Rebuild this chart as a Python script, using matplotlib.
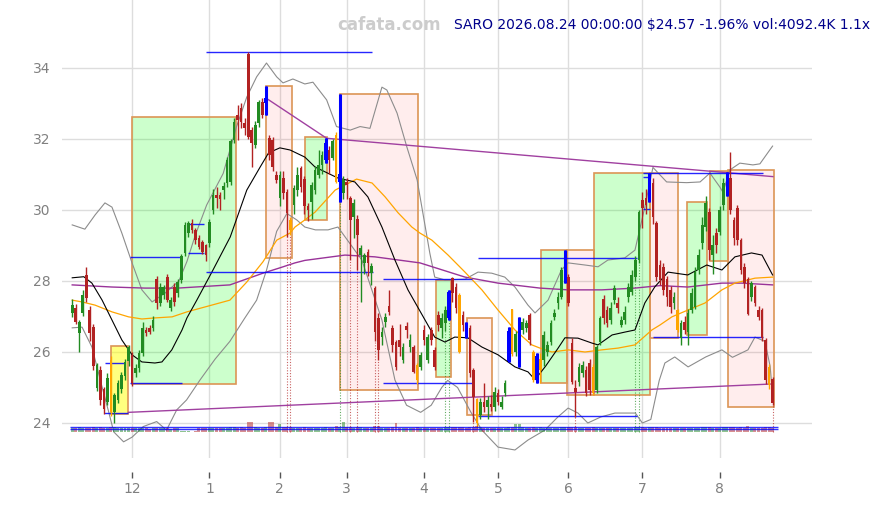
import matplotlib
matplotlib.use('Agg')
import matplotlib.pyplot as plt
from matplotlib.patches import Rectangle
import numpy as np
import pandas as pd

# trading calendar (bar index is the x axis)
holidays = ['2025-11-27', '2025-12-25', '2026-01-01', '2026-01-19', '2026-02-16',
            '2026-04-03', '2026-05-25', '2026-06-19', '2026-07-03']
dates = pd.bdate_range('2025-11-05', '2026-08-24', freq='C', holidays=holidays)
month_labels = ['12', '1', '2', '3', '4', '5', '6', '7', '8']

opens = [27.09, 27.23, 26.53, 27.09, 28.17, 27.18, 26.70, 24.98, 25.50, 24.95,
         24.60, 25.77, 24.32, 24.65, 24.95, 25.31, 25.75, 25.92, 25.40, 25.54,
         25.96, 26.62, 26.67, 26.67, 28.07, 27.37, 27.60, 28.12, 27.23, 27.84,
         27.65, 28.03, 28.78, 29.34, 29.63, 29.44, 29.20, 29.10, 29.00, 29.06,
         30.00, 30.42, 30.42, 30.56, 30.75, 30.80, 31.97, 32.68, 32.86, 32.45,
         34.40, 32.25, 31.83, 32.44, 33.05, 33.00, 32.02, 31.97, 30.99, 30.33,
         30.89, 30.52, 29.72, 30.14, 30.56, 31.17, 30.86, 30.10, 30.23, 30.56,
         30.99, 31.27, 31.40, 31.69, 31.46, 32.10, 30.80, 30.47, 30.80, 30.33,
         29.81, 29.76, 28.73, 28.50, 28.83, 28.23, 27.79, 26.95, 26.43, 26.85,
         27.30, 26.67, 26.29, 26.34, 25.77, 26.73, 26.15, 26.15, 25.63, 25.59,
         26.62, 25.77, 26.62, 26.06, 27.04, 26.67, 26.81, 26.95, 28.08, 27.84,
         27.60, 27.04, 26.80, 26.67, 25.49, 24.67, 24.22, 24.60, 24.46, 24.53,
         24.46, 24.85, 24.46, 24.84, 25.75, 27.20, 26.00, 25.60, 26.62, 26.67,
         27.04, 26.00, 25.20, 25.50, 25.77, 26.01, 26.29, 26.99, 27.37, 27.56,
         27.95, 28.12, 26.24, 24.98, 25.16, 25.40, 25.49, 25.68, 25.59, 24.93,
         26.29, 27.48, 27.18, 26.90, 27.46, 27.37, 26.76, 26.90, 27.56, 27.70,
         28.12, 28.59, 30.28, 30.33, 30.25, 30.75, 29.62, 28.45, 28.40, 28.07,
         27.75, 27.37, 27.18, 26.39, 26.85, 26.57, 27.18, 27.28, 28.31, 29.06,
         29.53, 29.95, 28.73, 29.34, 29.39, 30.14, 30.40, 30.89, 29.72, 30.05,
         29.15, 28.40, 28.07, 27.56, 27.84, 27.18, 27.18, 26.34, 25.59, 25.23]
highs = [27.50, 27.35, 26.90, 27.75, 28.40, 27.30, 26.80, 25.70, 25.60, 25.00,
         25.40, 25.90, 24.85, 25.20, 25.45, 25.80, 26.20, 26.00, 25.65, 26.05,
         26.85, 26.70, 26.75, 27.00, 28.15, 27.95, 27.90, 28.20, 27.55, 27.95,
         28.05, 28.75, 29.65, 29.70, 29.75, 29.50, 29.30, 29.15, 29.05, 29.75,
         30.60, 30.66, 30.50, 30.80, 31.50, 32.00, 32.60, 32.96, 33.00, 32.60,
         34.46, 32.35, 32.50, 33.10, 33.15, 33.49, 32.10, 32.05, 31.10, 31.10,
         31.10, 30.60, 29.80, 30.70, 31.20, 31.25, 30.95, 30.20, 30.80, 31.25,
         31.70, 31.65, 32.02, 31.80, 32.00, 32.21, 33.27, 30.95, 30.90, 30.40,
         30.30, 29.85, 29.00, 28.80, 28.90, 28.50, 27.85, 27.10, 26.70, 27.10,
         27.75, 26.75, 26.35, 26.80, 26.25, 26.85, 26.50, 26.20, 25.70, 26.00,
         26.75, 26.50, 26.70, 26.15, 27.15, 27.10, 27.30, 27.75, 28.10, 27.95,
         27.65, 27.15, 26.85, 26.75, 25.55, 24.70, 24.70, 25.12, 24.75, 24.80,
         25.00, 24.95, 24.75, 25.20, 26.70, 27.20, 26.60, 26.98, 26.95, 26.90,
         27.10, 26.05, 25.96, 25.96, 26.60, 26.30, 26.90, 27.20, 27.70, 28.40,
         28.87, 28.20, 26.40, 25.20, 25.70, 25.75, 25.60, 25.80, 25.65, 26.20,
         27.00, 27.60, 27.30, 27.40, 27.90, 27.55, 27.00, 27.30, 27.95, 28.30,
         28.70, 30.00, 30.50, 30.60, 31.03, 30.90, 29.70, 28.60, 28.50, 28.15,
         27.85, 27.70, 27.20, 26.90, 27.00, 27.20, 27.80, 28.40, 28.90, 29.80,
         30.40, 30.05, 29.30, 29.50, 30.10, 30.90, 31.08, 31.64, 29.80, 30.15,
         29.20, 28.50, 28.10, 28.00, 27.90, 27.30, 27.25, 26.40, 25.65, 25.30]
lows = [26.99, 26.80, 26.00, 27.00, 27.40, 26.30, 25.50, 24.90, 24.50, 24.25,
        24.50, 24.20, 23.99, 24.55, 24.85, 25.20, 25.60, 25.05, 25.30, 25.45,
        25.90, 26.45, 26.50, 26.60, 27.20, 27.30, 27.50, 27.40, 27.15, 27.30,
        27.55, 27.95, 28.70, 29.25, 29.35, 29.05, 28.90, 28.75, 28.55, 28.95,
        29.90, 30.05, 30.00, 30.30, 30.65, 30.70, 31.90, 31.97, 32.30, 32.10,
        32.00, 31.22, 31.75, 32.35, 32.60, 32.68, 31.40, 31.10, 30.75, 30.10,
        30.30, 29.25, 29.30, 29.90, 30.40, 30.50, 29.90, 29.70, 29.75, 30.45,
        30.90, 31.00, 31.31, 31.00, 31.40, 30.75, 30.23, 30.30, 30.30, 28.60,
        29.20, 28.30, 27.42, 28.20, 28.15, 27.90, 26.30, 25.77, 26.20, 26.70,
        27.05, 26.00, 25.50, 25.90, 25.70, 26.40, 26.00, 25.40, 25.10, 25.50,
        26.20, 25.70, 26.20, 25.50, 26.60, 26.40, 26.60, 26.90, 27.40, 27.10,
        25.96, 26.60, 26.40, 25.30, 24.04, 23.85, 24.10, 24.30, 24.10, 24.35,
        24.35, 24.50, 24.40, 24.75, 25.73, 25.90, 25.90, 25.59, 26.50, 26.55,
        26.20, 25.15, 25.12, 25.12, 25.60, 25.90, 26.20, 26.90, 27.20, 27.50,
        27.93, 27.30, 25.10, 24.18, 25.05, 25.30, 24.75, 24.80, 24.80, 24.85,
        26.20, 26.80, 26.70, 26.80, 27.35, 27.10, 26.70, 26.80, 27.40, 27.60,
        28.00, 28.50, 29.50, 29.90, 30.23, 29.60, 28.00, 27.90, 27.60, 27.30,
        27.10, 27.20, 26.55, 26.20, 26.50, 26.20, 27.10, 27.20, 28.20, 28.90,
        29.40, 28.60, 28.20, 28.80, 29.30, 30.00, 30.38, 29.90, 29.00, 29.00,
        28.20, 27.80, 27.05, 27.45, 27.30, 26.90, 26.30, 25.10, 24.95, 24.50]
closes = [27.32, 26.85, 26.85, 27.60, 27.51, 26.53, 25.60, 25.63, 24.65, 24.40,
          25.26, 24.30, 24.79, 25.12, 25.35, 25.73, 26.15, 25.12, 25.54, 25.96,
          26.67, 26.53, 26.57, 26.90, 27.37, 27.84, 27.84, 27.46, 27.46, 27.42,
          27.98, 28.69, 29.58, 29.63, 29.45, 29.16, 28.97, 28.83, 28.73, 29.67,
          30.42, 30.33, 30.30, 30.68, 31.41, 31.93, 32.49, 32.54, 32.49, 32.30,
          32.05, 31.88, 32.40, 33.05, 32.68, 33.15, 31.55, 31.22, 30.85, 30.99,
          30.47, 29.91, 29.45, 30.61, 30.99, 30.66, 30.11, 30.00, 30.70, 31.13,
          31.27, 31.55, 31.90, 31.41, 31.93, 30.80, 31.00, 30.84, 30.70, 29.72,
          30.19, 29.30, 28.92, 28.73, 28.50, 28.42, 26.57, 26.06, 26.57, 26.99,
          27.14, 26.20, 25.59, 26.15, 26.15, 26.62, 26.34, 25.45, 25.21, 25.91,
          26.34, 26.43, 26.34, 25.59, 26.76, 26.95, 27.18, 27.70, 27.65, 27.23,
          26.00, 26.76, 26.45, 25.40, 24.74, 24.00, 24.60, 24.46, 24.65, 24.46,
          24.88, 24.60, 24.60, 25.14, 26.60, 25.95, 26.50, 26.90, 26.85, 26.81,
          26.34, 25.21, 25.90, 25.80, 26.48, 26.20, 26.81, 27.09, 27.56, 28.31,
          28.50, 27.37, 25.16, 24.88, 25.59, 25.63, 24.84, 24.93, 24.84, 26.15,
          26.95, 26.95, 26.81, 27.23, 27.79, 27.23, 26.90, 27.14, 27.84, 28.17,
          28.59, 29.95, 30.05, 30.14, 30.90, 29.81, 28.12, 28.03, 27.75, 27.56,
          27.28, 27.56, 26.62, 26.81, 26.62, 27.09, 27.65, 28.26, 28.73, 29.58,
          30.19, 28.87, 29.01, 29.01, 30.00, 30.75, 31.00, 30.00, 29.20, 29.15,
          28.31, 27.93, 27.08, 27.93, 27.37, 26.99, 26.39, 25.21, 25.06, 24.57]
volumes = [3600, 3900, 4200, 3500, 3800, 4100, 4400, 3900, 4300, 4000,
           3700, 4600, 4200, 3800, 3500, 3600, 3900, 4000, 3400, 3500,
           3800, 3300, 3200, 3400, 3900, 3600, 3300, 3700, 3200, 3400,
           3300, 600, 500, 500, 400, 500, 3600, 3500, 3700, 3800,
           4100, 3600, 3500, 3400, 3900, 4200, 4400, 4000, 4300, 4100,
           9000, 8800, 4200, 4000, 3800, 4800, 9200, 9000, 4500, 7000,
           4300, 4600, 4400, 3900, 3800, 4100, 4300, 3800, 3600, 3700,
           3600, 3500, 4200, 3800, 3700, 5200, 5000, 9500, 4200, 4400,
           4000, 4500, 4300, 3900, 4000, 3800, 5500, 5200, 4100, 3700,
           3900, 4400, 8000, 4100, 3800, 3700, 3600, 4000, 4200, 3800,
           3900, 3700, 3800, 4000, 3900, 3700, 4300, 4600, 4200, 4400,
           4800, 4200, 4000, 4600, 5000, 5200, 4300, 3900, 3700, 3600,
           3800, 3700, 3500, 3900, 4800, 5000, 7500, 7200, 4200, 3900,
           4100, 4300, 4000, 4200, 4100, 3700, 3900, 3800, 4000, 4300,
           4600, 4300, 4700, 4400, 3900, 3700, 3800, 3900, 4200, 4100,
           4000, 3900, 3800, 3700, 3900, 3600, 3500, 3700, 3900, 4000,
           4300, 4700, 4200, 4000, 4500, 4400, 4600, 4000, 3900, 4100,
           3900, 3600, 4000, 3700, 3600, 3800, 3900, 4100, 4000, 4200,
           4300, 4200, 3900, 3800, 4000, 4200, 4500, 4600, 4300, 4100,
           4200, 4000, 5500, 3900, 4000, 3800, 4100, 4500, 4300, 4092]
vol_levels = [4900, 2800]

blue_idx = [55, 72, 76, 107, 112, 124, 127, 132, 140, 164, 186]
orange_idx = [11, 62, 75, 98, 110, 115, 125, 131, 133, 148, 172, 198]

# signal bars with dotted drop lines
sig_idx = [61, 62, 76, 79, 81, 86, 87, 106, 107, 114, 143, 160, 161, 199]
sig_up = [0, 0, 1, 0, 0, 0, 0, 1, 1, 0, 0, 1, 1, 0]

# zones: (x0, x1) in bar index, (low, high) in price, kind
zone_x0 = [11.0, 17.0, 55.1, 66.1, 76.1, 103.3, 112.2, 133.2, 140.5, 148.3, 164.1, 174.6, 181.2, 186.4]
zone_x1 = [15.9, 46.4, 62.4, 72.3, 98.3, 107.5, 119.3, 140.5, 148.3, 164.1, 172.2, 180.5, 186.4, 199.5]
zone_lo = [24.25, 25.10, 28.64, 29.72, 24.93, 25.30, 24.23, 25.12, 24.79, 24.79, 26.39, 26.48, 28.56, 24.46]
zone_hi = [26.17, 32.61, 33.49, 32.05, 33.27, 28.03, 26.95, 28.87, 28.87, 31.03, 31.03, 30.22, 31.11, 31.13]
zone_kind = ['y', 'g', 'p', 'g', 'p', 'g', 'p', 'g', 'p', 'g', 'p', 'g', 'g', 'p']

# horizontal blue levels
lvl_x0 = [38.0, 16.4, 16.4, 9.2, 9.0, 32.9, 32.9, 38.0, 88.3, 88.3, 115.3, 115.3, 162.2, 165.0, 162.2, 162.2]
lvl_x1 = [85.2, 31.2, 31.2, 15.1, 15.9, 37.4, 37.4, 85.5, 113.6, 113.6, 160.4, 160.4, 196.3, 196.3, 164.1, 164.1]
lvl_y = [34.45, 28.68, 25.14, 25.68, 24.27, 29.60, 28.80, 28.26, 28.05, 25.12, 28.64, 24.20, 31.03, 26.41, 30.94, 30.02]

# trend lines
trend_hi_x = [55.1, 72.3, 199.1]
trend_hi_y = [33.15, 32.02, 30.94]
trend_lo_x = [16.0, 199.1]
trend_lo_y = [24.30, 25.10]

# moving averages and bands
ma20_x = [0, 3.3, 5.6, 8.5, 11.3, 14.1, 17, 19.8, 23.5, 25.5, 28.3, 31.2, 32.6, 35.4, 40, 44.9,
          49.6, 53.4, 55.8, 59, 61.9, 66.1, 69, 75.5, 80.3, 84, 88, 91.7, 95.4, 97.4, 103,
          105.9, 108.7, 112.4, 116.4, 121, 125.8, 129.5, 131.5, 134.5, 138, 140, 143.7,
          147.7, 149.4, 153.4, 157, 159.9, 162.7, 165.5, 169.3, 174.9, 180.3, 184.6,
          188.3, 193, 196, 199]
ma20_y = [28.09, 28.12, 27.94, 27.46, 26.90, 26.34, 25.92, 25.72, 25.69, 25.72, 26.06, 26.62,
          26.96, 27.46, 28.31, 29.24, 30.56, 31.21, 31.61, 31.75, 31.69, 31.49, 31.21, 30.90,
          30.79, 30.37, 29.52, 28.59, 27.75, 27.40, 26.42, 26.28, 26.42, 26.40, 26.14, 25.92,
          25.58, 25.44, 25.22, 25.60, 26.10, 26.40, 26.39, 26.25, 26.20, 26.48, 26.56, 26.62,
          27.38, 27.83, 28.25, 28.17, 28.45, 28.31, 28.68, 28.79, 28.73, 28.17]
ma50_x = [0, 2.8, 6.5, 11.3, 16, 19.8, 23.5, 28.4, 32.6, 44.8, 49.6, 54.2, 58.1, 61.9, 63.3,
          66.1, 69, 74.7, 80.8, 85.2, 88.9, 92.6, 96.5, 98.8, 102.2, 106.8, 111.6, 116.4,
          121, 125.8, 130.6, 132.9, 136.3, 140.9, 145.7, 150.5, 155.1, 159.9, 164.7, 167,
          170.4, 174.9, 179.8, 184.6, 188.3, 194, 199]
ma50_y = [27.46, 27.41, 27.32, 27.13, 26.99, 26.93, 26.96, 26.99, 27.13, 27.46, 27.97, 28.54,
          29.15, 29.35, 29.52, 29.72, 29.94, 30.56, 30.87, 30.76, 30.37, 29.92, 29.52, 29.35,
          29.15, 28.73, 28.25, 27.75, 27.18, 26.62, 26.20, 26.11, 26.00, 26.06, 26.00, 26.06,
          26.11, 26.20, 26.62, 26.76, 26.99, 27.18, 27.38, 27.75, 27.94, 28.08, 28.11]
ma100_x = [0, 11.3, 20.7, 30, 44.8, 54.2, 59, 63.3, 66.1, 77.5, 86, 98.8, 111.6, 121, 132.9,
           140.9, 150.5, 159.9, 167, 174.9, 184.6, 190.3, 199]
ma100_y = [27.89, 27.83, 27.80, 27.80, 27.89, 28.22, 28.37, 28.51, 28.58, 28.73, 28.68, 28.51,
           28.11, 27.94, 27.80, 27.75, 27.75, 27.80, 27.87, 27.83, 27.94, 27.94, 27.89]
bb_up_x = [0, 3.6, 6.5, 9.3, 11.3, 14.1, 17, 19.8, 22.7, 26.4, 30.3, 32.6, 35, 38.2, 42.9,
           46.7, 49.6, 52.4, 55.2, 58.1, 59.9, 62.7, 66.1, 68.4, 72.3, 75.1, 79, 81.8, 84.6,
           88, 89.4, 92.3, 95.1, 98, 101.6, 103, 105.9, 111.6, 115.3, 119.2, 122.9, 125.8,
           129.5, 131.5, 135.2, 139, 140.9, 145.7, 149.4, 152.2, 157, 159.9, 162.7, 165,
           168.9, 174.6, 178.4, 181.2, 184, 184.9, 186.9, 189.7, 193.4, 195.4, 198.2, 199]
bb_up_y = [29.58, 29.46, 29.86, 30.20, 30.08, 29.35, 28.51, 27.75, 27.41, 27.66, 28.00, 28.55,
           29.30, 30.14, 31.03, 32.35, 33.18, 33.75, 34.14, 33.75, 33.58, 33.69, 33.55, 33.60,
           33.10, 32.35, 32.25, 32.35, 32.30, 33.46, 33.38, 32.73, 31.77, 30.85, 28.79, 28.11,
           28.03, 28.05, 28.25, 28.22, 28.11, 27.83, 27.32, 27.10, 27.46, 28.31, 28.51, 28.45,
           28.40, 28.59, 28.65, 28.87, 30.08, 31.20, 30.79, 30.77, 30.79, 31.04, 30.65, 30.50,
           31.13, 31.32, 31.27, 31.30, 31.69, 31.80]
bb_lo_x = [0, 2.8, 5.6, 8.5, 10.4, 11.8, 14.6, 17, 20.2, 24, 26.8, 29.7, 32.5, 36.3, 40.6,
           44.8, 49, 52.4, 55.2, 58.1, 61, 63.8, 66.1, 69.1, 72.7, 75.5, 82.3, 88, 91.7, 95,
           99, 102, 105, 106.7, 109.5, 113.3, 116.4, 121, 125.8, 129.5, 134.3, 138, 140.9,
           143.7, 146.5, 150.2, 154.2, 160, 162, 164.4, 166.8, 168.4, 171.2, 175, 180,
           184.6, 187.6, 192, 194, 196.8, 198.3, 199]
bb_lo_y = [26.68, 26.70, 26.14, 25.01, 24.30, 23.75, 23.47, 23.60, 23.90, 24.04, 23.80, 24.37,
           24.65, 25.21, 25.80, 26.30, 26.95, 27.46, 28.30, 29.40, 29.90, 29.72, 29.52, 29.44,
           29.44, 29.52, 28.59, 26.90, 25.21, 24.50, 24.30, 24.50, 25.00, 25.20, 25.00, 24.30,
           23.80, 23.32, 23.24, 23.52, 23.80, 24.17, 24.42, 24.28, 24.00, 24.17, 24.28, 24.28,
           24.00, 24.10, 25.20, 25.69, 25.86, 25.58, 25.86, 26.06, 25.85, 26.06, 26.42, 26.30,
           25.60, 24.80]

UP = '#228b22'
DOWN = '#b22222'
EDGE = '#dc9555'

fig = plt.figure(figsize=(8.8, 5.05), dpi=100)
ax = fig.add_axes([62 / 880, 47 / 505, 750 / 880, 458 / 505])

o, h, l, c = map(np.array, (opens, highs, lows, closes))
x = np.arange(len(c))
cols = np.where(c >= o, UP, DOWN).astype(object)
for i in orange_idx:
    cols[i] = 'orange'
for i in blue_idx:
    cols[i] = 'blue'

# zones
fills = {'g': (0.0, 1.0, 0.0, 0.2), 'p': (1.0, 0.0, 0.0, 0.07), 'y': (1.0, 1.0, 0.0, 0.5)}
for x0, x1, lo, hi, k in zip(zone_x0, zone_x1, zone_lo, zone_hi, zone_kind):
    ax.add_patch(Rectangle((x0, lo), x1 - x0, hi - lo, facecolor=fills[k],
                           edgecolor=EDGE, linewidth=1.2, zorder=1))

# dotted drop lines from signal bars
for i, u in zip(sig_idx, sig_up):
    ax.vlines(i, 23.76, l[i], colors=UP if u else DOWN, linestyles=(0, (1, 1.5)),
              linewidth=0.8, alpha=0.7, zorder=2)

# overlays
ax.plot(bb_up_x, bb_up_y, color='#8c8c8c', linewidth=0.8, zorder=2)
ax.plot(bb_lo_x, bb_lo_y, color='#8c8c8c', linewidth=0.8, zorder=2)
ax.plot(ma100_x, ma100_y, color='#993399', linewidth=1.0, zorder=2)
ax.plot(ma50_x, ma50_y, color='orange', linewidth=0.9, zorder=2)
ax.plot(ma20_x, ma20_y, color='black', linewidth=0.8, zorder=2)
ax.plot(trend_hi_x, trend_hi_y, color='#a040a0', linewidth=1.0, zorder=2)
ax.plot(trend_lo_x, trend_lo_y, color='#a040a0', linewidth=1.0, zorder=2)
ax.hlines(lvl_y, lvl_x0, lvl_x1, colors='blue', linewidth=1.0, alpha=0.85, zorder=3)

# candles
body = np.maximum(np.abs(c - o), 0.04)
ax.vlines(x, l, h, colors=cols, linewidth=1.0, zorder=4)
ax.bar(x, body, bottom=np.minimum(o, c), width=0.75, color=cols, linewidth=0, zorder=4)
ax.vlines(blue_idx, l[blue_idx], h[blue_idx], colors='blue', linewidth=2.2, zorder=5)

ax.set_xlim(-2.9, 210.2)
ax.set_ylim(23.014, 35.915)
month_pos = [i for i in range(1, len(dates)) if dates[i].month != dates[i - 1].month]
ax.set_xticks(month_pos)
ax.set_xticklabels(month_labels)
ax.set_yticks([24, 26, 28, 30, 32, 34])
ax.grid(True, color='#dddddd', linewidth=1.0)
ax.set_axisbelow(True)
for s in ax.spines.values():
    s.set_visible(False)
ax.spines['bottom'].set_position(('outward', 10))
ax.tick_params(axis='x', colors='#555555', labelcolor='#808080', labelsize=10,
               length=4, width=1, pad=3)
ax.tick_params(axis='y', length=0, labelsize=10, labelcolor='#808080', pad=8,
               labelleft=True, labelright=True)

# volume
ax2 = ax.twinx()
vcols = np.where(c >= o, UP, DOWN)
ax2.bar(x, volumes, width=0.85, color=vcols, alpha=0.5, linewidth=0)
ax2.hlines(vol_levels, -0.5, len(x) + 0.5, colors='blue', linewidth=1.0, alpha=0.8)
ax2.set_ylim(-24050, 399600)
ax2.axis('off')

fig.text(389 / 880, 0.95, 'cafata.com', ha='center', va='center', fontsize=12,
         fontweight='bold', color='#cccccc')
fig.text(870 / 880, 0.95, 'SARO 2026.08.24 00:00:00 $24.57 -1.96% vol:4092.4K 1.1x',
         ha='right', va='center', fontsize=10, color='#00008b')

fig.savefig('out.png', dpi=100)
